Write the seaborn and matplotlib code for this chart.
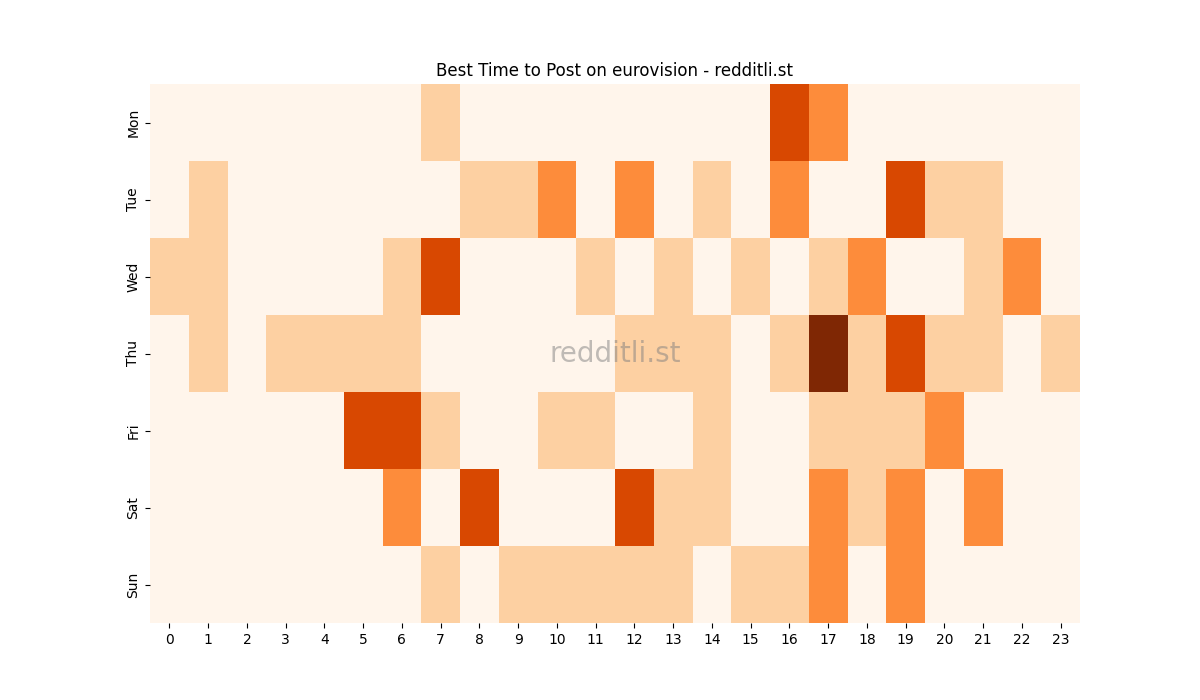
import numpy as np
import pandas as pd
import matplotlib
matplotlib.use("Agg")
import matplotlib.pyplot as plt
import seaborn as sns

days = ["Mon", "Tue", "Wed", "Thu", "Fri", "Sat", "Sun"]
hours = list(range(24))

# posts per hour slot
mon = [0,0,0,0,0,0,0,1,0,0,0,0,0,0,0,0,3,2,0,0,0,0,0,0]
tue = [0,1,0,0,0,0,0,0,1,1,2,0,2,0,1,0,2,0,0,3,1,1,0,0]
wed = [1,1,0,0,0,0,1,3,0,0,0,1,0,1,0,1,0,1,2,0,0,1,2,0]
thu = [0,1,0,1,1,1,1,0,0,0,0,0,1,1,1,0,1,4,1,3,1,1,0,1]
fri = [0,0,0,0,0,3,3,1,0,0,1,1,0,0,1,0,0,1,1,1,2,0,0,0]
sat = [0,0,0,0,0,0,2,0,3,0,0,0,3,1,1,0,0,2,1,2,0,2,0,0]
sun = [0,0,0,0,0,0,0,1,0,1,1,1,1,1,0,1,1,2,0,2,0,0,0,0]

df = pd.DataFrame([mon, tue, wed, thu, fri, sat, sun], index=days, columns=hours)

fig, ax = plt.subplots(figsize=(12, 7), dpi=100)
sns.heatmap(df, cmap="Oranges", vmin=0, vmax=4, cbar=False, ax=ax)
ax.set_title("Best Time to Post on eurovision - redditli.st")
ax.text(0.5, 0.5, "redditli.st", transform=ax.transAxes, ha="center", va="center",
        fontsize=20, color="gray", alpha=0.5)
plt.savefig("out.png")
